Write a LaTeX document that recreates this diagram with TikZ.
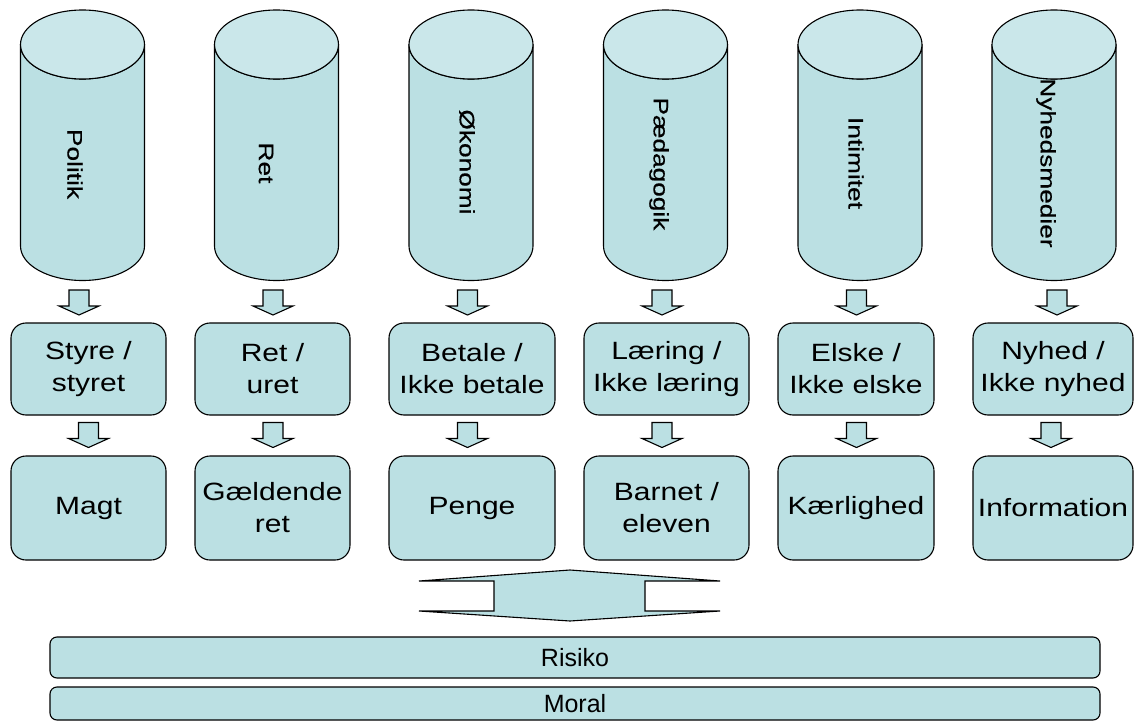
\documentclass[tikz,border=0pt]{standalone}
\usepackage{fontspec}
\newfontfamily\boxfont[FakeStretch=1.2]{Liberation Sans}
\newfontfamily\cylfont[FakeStretch=1.25,FakeBold=0.4]{Liberation Sans}
\newfontfamily\barfont{Liberation Sans}
\definecolor{cylbody}{RGB}{187,224,227}
\definecolor{cyltop}{RGB}{202,231,234}
\tikzset{
  cyl/.pic={
    \draw[fill=cylbody] (-62,34.5) -- (-62,236)
      arc[start angle=180,end angle=0,x radius=62,y radius=34.5] -- (62,34.5)
      arc[start angle=0,end angle=180,x radius=62,y radius=34.5] -- cycle;
    \draw[fill=cyltop] (0,34.5) ellipse[x radius=62,y radius=34.5];
  },
  darr/.pic={
    \draw[fill=cylbody] (-10,0) -- (-10,16) -- (-20,16) -- (0,25) -- (20,16) -- (10,16) -- (10,0) -- cycle;
  },
  cyltext/.style={rotate=-90,inner sep=0pt,font=\cylfont\fontsize{21}{23}\selectfont},
  box/.style={draw,fill=cylbody,rounded corners=15pt,minimum width=155pt,inner sep=0pt,align=center,font=\boxfont\fontsize{25}{32}\selectfont},
  top/.style={box,minimum height=92pt},
  bot/.style={box,minimum height=104pt},
  bar/.style={draw,fill=cylbody,rounded corners=7pt,minimum width=1050pt,inner sep=0pt,font=\barfont\fontsize{25}{28}\selectfont}
}
\begin{document}
\begin{tikzpicture}[x=1pt,y=-1pt,line width=1.1pt]
  \useasboundingbox (0,0) rectangle (1137,722);

  % systems
  \pic at (82.5,10) {cyl};
  \pic at (276.5,10) {cyl};
  \pic at (471,10) {cyl};
  \pic at (665.5,10) {cyl};
  \pic at (860,10) {cyl};
  \pic at (1054,10) {cyl};
  \node[cyltext] (pol) at (75,164) {Politik};
  \node[cyltext] (ret) at (266,163) {Ret};
  \node[cyltext] (oko) at (467,162) {Økonomi};
  \node[cyltext] (paed) at (659,164) {Pædagogik};
  \node[cyltext] (intim) at (856,163) {Intimitet};
  \node[cyltext] (nyh) at (1046,163) {Nyhedsmedier};

  \pic at (79,290) {darr};
  \pic at (273,290) {darr};
  \pic at (467.5,290) {darr};
  \pic at (662,290) {darr};
  \pic at (856.5,290) {darr};
  \pic at (1057,290) {darr};

  % koder
  \node[top] (styre) at (88.5,369) {Styre /\\styret};
  \node[top] (uret) at (272.5,369) {Ret /\\uret};
  \node[top,minimum width=166pt] (betale) at (472,369) {Betale /\\Ikke betale};
  \node[top,minimum width=165pt] (laering) at (666.5,369) {Læring /\\Ikke læring};
  \node[top,minimum width=156pt] (elske) at (856,369) {Elske /\\Ikke elske};
  \node[top,minimum width=160pt] (nyhed) at (1053,369) {Nyhed /\\Ikke nyhed};

  \pic at (88.5,422.5) {darr};
  \pic at (273,422.5) {darr};
  \pic at (467.5,422.5) {darr};
  \pic at (662,422.5) {darr};
  \pic at (856.5,422.5) {darr};
  \pic at (1051,422.5) {darr};

  % medier
  \node[bot] (magt) at (88.5,508) {Magt};
  \node[bot] (gaeld) at (272.5,508) {Gældende\\ret};
  \node[bot,minimum width=166pt] (penge) at (472,508) {Penge};
  \node[bot,minimum width=165pt] (barn) at (666.5,508) {Barnet /\\eleven};
  \node[bot,minimum width=156pt] (kaer) at (856,508) {Kærlighed};
  \node[bot,minimum width=160pt] (info) at (1053,508) {Information};

  \draw[fill=cylbody] (419,581) -- (494,581) -- (494,611) -- (419,611) -- (570,621) -- (720,611)
    -- (645,611) -- (645,581) -- (720,581) -- (570,570) -- cycle;

  \node[bar,minimum height=41pt] (risiko) at (575,657.5) {Risiko};
  \node[bar,minimum height=33pt] (moral) at (575,703.5) {Moral};
\end{tikzpicture}
\end{document}
